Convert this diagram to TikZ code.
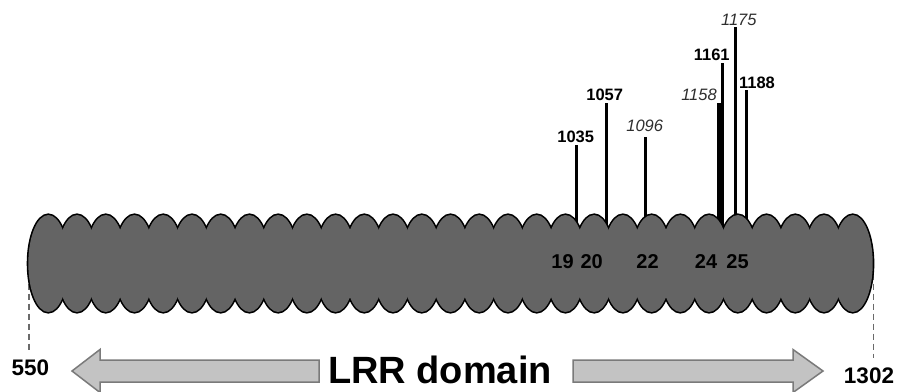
\documentclass[tikz,border=0pt]{standalone}
\usepackage{fontspec}
\setmainfont{Liberation Sans}
\definecolor{bodygray}{HTML}{646464}
\definecolor{arrowfill}{HTML}{C3C3C3}
\definecolor{arrowedge}{HTML}{7A7A7A}
\definecolor{itgray}{HTML}{2E2E2E}
\definecolor{dashgray}{HTML}{6A6A6A}
\begin{document}
\begin{tikzpicture}[x=1pt,y=-1pt,
  pinline/.style={line width=2.6pt, line cap=butt},
  plab/.style={font=\fontsize{16.5}{18}\selectfont\bfseries, anchor=base, inner sep=0pt},
  ilab/.style={font=\fontsize{16.5}{18}\selectfont\itshape, text=itgray, anchor=base, inner sep=0pt},
  rlab/.style={font=\fontsize{20}{22}\selectfont\bfseries, anchor=base, inner sep=0pt},
  endlab/.style={font=\fontsize{22.5}{24}\selectfont\bfseries, anchor=base, inner sep=0pt},
  bigarrow/.style={fill=arrowfill, draw=arrowedge, line width=1.5pt, line join=miter},
  endline/.style={draw=dashgray, line width=1.2pt, dash pattern=on 6pt off 4pt}]
\useasboundingbox (0,0) rectangle (897,391);

% dashed end markers
\coordinate (lt) at (29,263.5);
\coordinate (lb) at (29,352);
\coordinate (rt) at (873.5,263.5);
\coordinate (rb) at (873.5,358);
\draw[endline] (lt) -- (lb);
\draw[endline] (rt) -- (rb);

% pin lines (bottoms hidden by the body)
\foreach \n/\x/\t in {1035/576.7/145, 1057/606.3/103, 1096/645.3/137, 1161/722.6/63, 1175/735.2/27, 1188/746.5/90}{
  \coordinate (t\n) at (\x,\t);
  \coordinate (b\n) at (\x,250);
  \draw[pinline] (t\n) -- (b\n);
}
\coordinate (t1158) at (719,103);
\coordinate (b1158) at (719,250);
\draw[pinline, line width=4.5pt] (t1158) -- (b1158);

% LRR body: union of ellipses
\foreach \i in {0,...,28}{
  \draw[line width=3.2pt] (48.3+\i*28.73,263.5) ellipse [x radius=20, y radius=48.5];
}
\foreach \i in {0,...,28}{
  \fill[bodygray] (48.3+\i*28.73,263.5) ellipse [x radius=20, y radius=48.5];
}

% repeat numbers
\node[rlab] (r19) at (562.5,268.5) {19};
\node[rlab] (r20) at (591.7,268.5) {20};
\node[rlab] (r22) at (647.5,268.5) {22};
\node[rlab] (r24) at (706,268.5) {24};
\node[rlab] (r25) at (737.5,268.5) {25};

% pin labels
\node[plab] (l1035) at (575.7,142.7) {1035};
\node[plab] (l1057) at (604.7,100) {1057};
\node[ilab] (l1096) at (644.7,131.7) {1096};
\node[ilab] (l1158) at (699,100.7) {1158};
\node[plab] (l1161) at (711.7,60) {1161};
\node[ilab] (l1175) at (738.8,25) {1175};
\node[plab] (l1188) at (757,88.3) {1188};

% domain arrows
\draw[bigarrow] (72,371) -- (100,349.5) -- (100,360) -- (319,360) -- (319,382) -- (100,382) -- (100,392.5) -- cycle;
\draw[bigarrow] (823,371) -- (793,349.5) -- (793,360) -- (573,360) -- (573,382) -- (793,382) -- (793,392.5) -- cycle;
\node[font=\fontsize{38}{40}\selectfont\bfseries, anchor=base, inner sep=0pt] (lrr) at (440,383) {LRR domain};

% end labels
\node[endlab] (s550) at (30.5,375.7) {550};
\node[endlab] (s1302) at (869,383.3) {1302};
\end{tikzpicture}
\end{document}
